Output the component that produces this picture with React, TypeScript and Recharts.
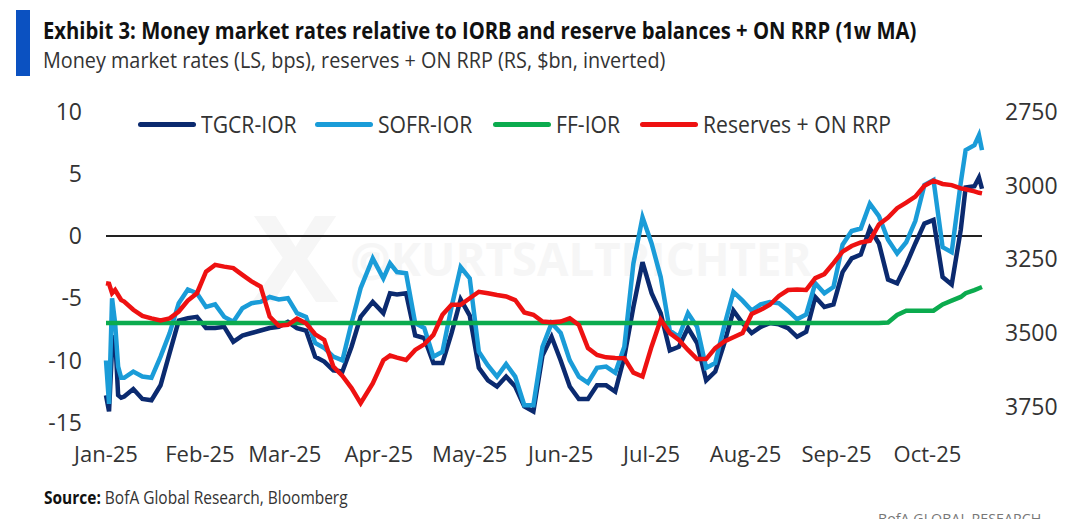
import { LineChart, Line, XAxis, YAxis, ReferenceLine, Legend } from "recharts"

const days = [
  0, 1, 2, 3, 4, 5, 6, 9, 12, 15, 18, 21, 24, 27, 30, 33, 36, 39, 42, 45, 48, 51, 54, 57, 60, 63, 66, 69, 72, 75, 78, 81,
  84, 88, 91.5, 93.7, 96, 99, 102, 105, 108, 111, 114, 117, 120, 123, 126, 129, 132, 135, 138, 141, 144, 147, 150, 153, 156,
  159, 162, 165, 168, 171, 174, 177, 180, 183, 186, 189, 192, 195, 198, 201, 204, 207, 210, 213, 216, 219, 222, 225, 228,
  231, 234, 237, 240, 243, 246, 249, 252, 255, 258, 261, 264, 267, 270, 273, 276, 279, 282, 283.6, 286.5, 288, 289,
]

const tgcr = [
  -12.8, -14.1, -9, -8, -12.8, -13, -12.9, -12.3, -13.1, -13.2, -12, -9.4, -6.8, -6.6, -6.5, -7.4, -7.4, -7.3, -8.5, -8,
  -7.8, -7.6, -7.4, -7.3, -6.9, -7.4, -7.6, -9.7, -10.1, -10.8, -10.9, -8.9, -6.5, -5.3, -6.2, -4.6, -4.7, -4.6, -8,
  -8.2, -10.2, -10.2, -7.8, -5.1, -6.4, -10.6, -11.6, -12.1, -11.3, -12.1, -13.7, -14.1, -9.6, -8.1, -10, -12.1, -13.1,
  -13.1, -12, -12, -12.5, -9.7, -5.7, -2.1, -4.6, -6.2, -9.2, -8.9, -7.4, -8.6, -11.6, -10.9, -8.6, -6, -7, -7.8, -7.3,
  -7, -7.1, -7.4, -8.1, -7.7, -4.9, -5.7, -5.5, -2.9, -1.8, -1.5, 0.6, -0.6, -3.5, -3.8, -2.3, -0.6, 1, 1.3, -3.3, -3.9,
  0.5, 3.9, 4, 4.7, 3.8,
]

const sofr = [
  -10, -13.5, -5, -7, -10.5, -11.4, -11.4, -10.9, -11.3, -11.4, -9.7, -7.8, -5.4, -4.3, -4.6, -5.7, -5.5, -6.5, -6.9,
  -5.8, -5.4, -5.3, -4.9, -5.1, -5, -6.2, -6.5, -8.6, -9, -9.7, -10, -7, -4.2, -1.8, -3.4, -2.2, -2.9, -3, -7, -7.4,
  -9.7, -9.3, -5.7, -2.5, -3.4, -9.3, -10.4, -11.3, -10.3, -11.3, -13.6, -13.6, -8.9, -7, -7.8, -10, -11.3, -11.8,
  -10.6, -10.5, -11, -8.9, -2.2, 1.5, -0.6, -3.3, -7.6, -8.1, -6.2, -7.3, -10.6, -10.2, -7.2, -4.5, -5.2, -6, -5.5,
  -5.3, -5.4, -6, -6.7, -6.3, -3.8, -4.6, -4.1, -0.7, 0.4, 0.6, 2.6, 1.6, -0.3, -1.4, -0.5, 1.2, 4.1, 4.5, -0.9, -1.3,
  4.3, 6.9, 7.3, 8.1, 6.9,
]

const ff = [
  -7, -7, -7, -7, -7, -7, -7, -7, -7, -7, -7, -7, -7, -7, -7, -7, -7, -7, -7, -7, -7, -7, -7, -7, -7, -7, -7, -7, -7, -7,
  -7, -7, -7, -7, -7, -7, -7, -7, -7, -7, -7, -7, -7, -7, -7, -7, -7, -7, -7, -7, -7, -7, -7, -7, -7, -7, -7, -7, -7, -7,
  -7, -7, -7, -7, -7, -7, -7, -7, -7, -7, -7, -7, -7, -7, -7, -7, -7, -7, -7, -7, -7, -7, -7, -7, -7, -7, -7, -7, -7, -7,
  -6.95, -6.35, -6, -6, -6, -6, -5.5, -5.2, -4.9, -4.6, -4.35, -4.2, -4.1,
]

const reserves = [
  3331, 3333, 3365, 3354, 3371, 3388, 3393, 3421, 3442, 3450, 3457, 3450, 3427, 3390, 3365, 3292, 3269, 3275, 3280, 3303,
  3325, 3342, 3444, 3475, 3472, 3451, 3467, 3504, 3523, 3613, 3645, 3686, 3737, 3670, 3592, 3576, 3583, 3591, 3557, 3538,
  3506, 3438, 3404, 3404, 3382, 3360, 3365, 3371, 3376, 3388, 3430, 3438, 3461, 3463, 3461, 3450, 3472, 3551, 3574, 3582,
  3584, 3585, 3634, 3647, 3545, 3455, 3500, 3523, 3557, 3588, 3588, 3551, 3528, 3514, 3500, 3435, 3421, 3404, 3374, 3354,
  3352, 3354, 3314, 3300, 3263, 3224, 3205, 3193, 3187, 3132, 3109, 3077, 3058, 3038, 3001, 2984, 2995, 2999, 3010, 3013,
  3020, 3025, 3027,
]

const monthTicks = [0, 31, 59, 90, 120, 150, 180, 211, 241, 271]
const monthLabels = ["Jan-25", "Feb-25", "Mar-25", "Apr-25", "May-25", "Jun-25", "Jul-25", "Aug-25", "Sep-25", "Oct-25"]
const rateTicks = [-15, -10, -5, 0, 5, 10]
const reserveTicks = [2750, 3000, 3250, 3500, 3750]

const legendItems = [
  { name: "TGCR-IOR", color: "#0b2a6f", width: 114 },
  { name: "SOFR-IOR", color: "#1a9cd8", width: 115 },
  { name: "FF-IOR", color: "#0bab4e", width: 84 },
  { name: "Reserves + ON RRP", color: "#ee1111", width: 200 },
]

const chartData = days.map((day, i) => ({
  day,
  tgcr: tgcr[i],
  sofr: sofr[i],
  ff: ff[i],
  reserves: reserves[i],
}))

const font = "'Open Sans', sans-serif"

function Label({ x, y, size, bold, color = "#1a1a1a", squeeze = 1, children }: any) {
  return (
    <div
      style={{
        position: "absolute",
        left: x,
        top: y,
        fontFamily: font,
        fontSize: size,
        fontWeight: bold ? 700 : 400,
        color,
        lineHeight: 1,
        whiteSpace: "nowrap",
        transform: `scaleX(${squeeze})`,
        transformOrigin: "left center",
      }}
    >
      {children}
    </div>
  )
}

function ChartLegend() {
  return (
    <div style={{ display: "flex", alignItems: "center", fontFamily: font, fontSize: 23, color: "#333" }}>
      {legendItems.map((item) => (
        <div key={item.name} style={{ display: "flex", alignItems: "center", flex: "none", width: 59 + 4 + item.width }}>
          <span style={{ flex: "none", width: 58, height: 5, borderRadius: 3, background: item.color, marginRight: 5 }} />
          <span style={{ whiteSpace: "nowrap", transform: "scaleX(0.92)", transformOrigin: "left center" }}>{item.name}</span>
        </div>
      ))}
    </div>
  )
}

export default function App() {
  return (
    <div style={{ position: "absolute", left: 0, top: 0, width: 1074, height: 519, background: "#fff", overflow: "hidden" }}>
      <div style={{ position: "absolute", left: 16, top: 10, width: 14, height: 66, background: "#0b51c1" }} />
      <Label x={43} y={19} size={23} bold color="#111" squeeze={0.88}>
        Exhibit 3: Money market rates relative to IORB and reserve balances + ON RRP (1w MA)
      </Label>
      <Label x={43} y={49} size={22.5} color="#333" squeeze={0.88}>
        Money market rates (LS, bps), reserves + ON RRP (RS, $bn, inverted)
      </Label>

      <Label x={252} y={196} size={120} bold color="#f6f6f6" squeeze={1.08}>X</Label>
      <Label x={350} y={235} size={46} bold color="#f6f6f6" squeeze={0.99}>@KURTSALTRICHTER</Label>

      <div style={{ position: "absolute", left: 0, top: 0 }}>
        <LineChart
          width={1074}
          height={519}
          data={chartData}
          margin={{ top: 111.6, right: 32, bottom: 36.4, left: 46 }}
        >
          <XAxis
            dataKey="day"
            type="number"
            domain={[0, 289]}
            ticks={monthTicks}
            tickFormatter={(d: number) => monthLabels[monthTicks.indexOf(d)]}
            interval={0}
            axisLine={false}
            tickLine={false}
            tickSize={0}
            tickMargin={24}
            tick={{ fontFamily: font, fontSize: 22, fill: "#333" }}
            height={60}
          />
          <YAxis
            yAxisId="rate"
            width={60}
            domain={[-15, 10]}
            ticks={rateTicks}
            interval={0}
            axisLine={false}
            tickLine={false}
            tickSize={0}
            tickMargin={24}
            tick={{ fontFamily: font, fontSize: 23, fill: "#333" }}
          />
          <YAxis
            yAxisId="reserves"
            orientation="right"
            width={60}
            reversed
            domain={[2750, 3803]}
            ticks={reserveTicks}
            interval={0}
            axisLine={false}
            tickLine={false}
            tickSize={0}
            tickMargin={23}
            tick={{ fontFamily: font, fontSize: 23, fill: "#333" }}
          />
          <Legend
            content={<ChartLegend />}
            verticalAlign="middle"
            align="center"
            wrapperStyle={{ position: "absolute", left: 138, top: 108, width: 800, height: 30 }}
          />
          <ReferenceLine yAxisId="rate" y={0} stroke="#222" strokeWidth={2} />
          <Line yAxisId="rate" dataKey="tgcr" name="TGCR-IOR" stroke="#0b2a6f" strokeWidth={4.5} dot={false} isAnimationActive={false} />
          <Line yAxisId="rate" dataKey="sofr" name="SOFR-IOR" stroke="#1a9cd8" strokeWidth={4.5} dot={false} isAnimationActive={false} />
          <Line yAxisId="rate" dataKey="ff" name="FF-IOR" stroke="#0bab4e" strokeWidth={4.5} dot={false} isAnimationActive={false} />
          <Line yAxisId="reserves" dataKey="reserves" name="Reserves + ON RRP" stroke="#ee1111" strokeWidth={4.5} dot={false} isAnimationActive={false} />
        </LineChart>
      </div>

      <div style={{ position: "absolute", left: 44, top: 485, fontFamily: font, fontSize: 18, color: "#333", whiteSpace: "nowrap", transform: "scaleX(0.86)", transformOrigin: "left center" }}>
        <b style={{ color: "#111" }}>Source:</b> BofA Global Research, Bloomberg
      </div>
      <Label x={878} y={511} size={15} color="#777" squeeze={0.95}>BofA GLOBAL RESEARCH</Label>
    </div>
  )
}
